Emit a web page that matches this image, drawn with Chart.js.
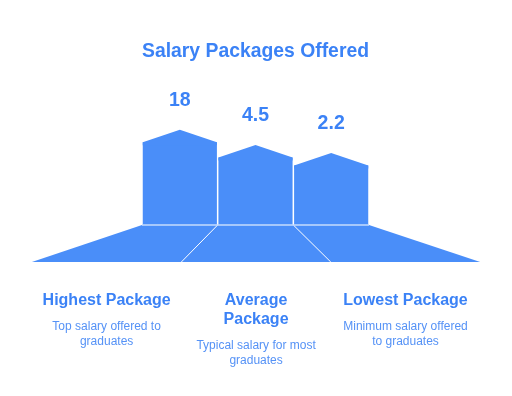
<!DOCTYPE html>
<html>
<head>
<meta charset="utf-8">
<script src="https://cdn.jsdelivr.net/npm/chart.js@4"></script>
<style>
  html, body { margin: 0; padding: 0; background: #fff; }
  #wrap { width: 512px; height: 396px; position: relative; }
</style>
</head>
<body>
<div id="wrap"><canvas id="salaryChart"></canvas></div>
<script>
const categories = [['Highest Package'], ['Average', 'Package'], ['Lowest Package']];
const packageValues = [18, 4.5, 2.2];
const valueLabels = ['18', '4.5', '2.2'];
const descriptions = [
    ['Top salary offered to', 'graduates'],
    ['Typical salary for most', 'graduates'],
    ['Minimum salary offered', 'to graduates']
];

const BLUE = '#4a8ef9';
const TEXT_BLUE = '#3b82f6';
const SOFT_BLUE = '#5592f6';
const FONT = '"Liberation Sans", Arial, sans-serif';

// roofs, floor and texts around the bars
const housePlugin = {
    id: 'houses',
    beforeDatasetsDraw(chart) {
        const ctx = chart.ctx;
        const { left, right, bottom } = chart.chartArea;
        const w = right - left;
        const floorH = 37;
        const bl = left - w * 0.485;
        const br = right + w * 0.49;
        ctx.save();
        ctx.fillStyle = BLUE;
        ctx.beginPath();
        ctx.moveTo(left, bottom);
        ctx.lineTo(right, bottom);
        ctx.lineTo(br, bottom + floorH);
        ctx.lineTo(bl, bottom + floorH);
        ctx.closePath();
        ctx.fill();

        // dividers
        const bars = chart.getDatasetMeta(0).data;
        const seg = (br - bl) / bars.length;
        ctx.strokeStyle = '#ffffff';
        ctx.lineWidth = 1;
        for (let i = 0; i < bars.length - 1; i++) {
            const topX = (bars[i].x + bars[i + 1].x) / 2;
            ctx.beginPath();
            ctx.moveTo(topX, bottom);
            ctx.lineTo(bl + seg * (i + 1), bottom + floorH);
            ctx.stroke();
        }
        ctx.restore();
        chart.$floor = { bl, seg, bottom: bottom + floorH };
    },
    afterDatasetsDraw(chart) {
        const ctx = chart.ctx;
        const bars = chart.getDatasetMeta(0).data;
        ctx.save();
        bars.forEach((bar, i) => {
            const half = bar.width / 2;
            const roof = bar.width * 0.17;
            // roof overlaps the bar a little so no seam shows
            ctx.fillStyle = BLUE;
            ctx.beginPath();
            ctx.moveTo(bar.x - half, bar.y + 3);
            ctx.lineTo(bar.x - half, bar.y);
            ctx.lineTo(bar.x, bar.y - roof);
            ctx.lineTo(bar.x + half, bar.y);
            ctx.lineTo(bar.x + half, bar.y + 3);
            ctx.closePath();
            ctx.fill();

            ctx.fillStyle = TEXT_BLUE;
            ctx.font = 'bold 19.5px ' + FONT;
            ctx.textAlign = 'center';
            ctx.textBaseline = 'middle';
            ctx.fillText(valueLabels[i], bar.x, bar.y - roof - 29);
        });

        // light line on the floor's top edge
        const { left, right, bottom } = chart.chartArea;
        ctx.strokeStyle = '#c6dbfd';
        ctx.lineWidth = 1.5;
        ctx.beginPath();
        ctx.moveTo(left, bottom);
        ctx.lineTo(right, bottom);
        ctx.stroke();

        // category names + descriptions under the floor
        const f = chart.$floor;
        categories.forEach((lines, i) => {
            const cx = f.bl + f.seg * (i + 0.5);
            let y = f.bottom + 39;
            ctx.fillStyle = TEXT_BLUE;
            ctx.font = 'bold 16px ' + FONT;
            lines.forEach(t => { ctx.fillText(t, cx, y); y += 19; });
            y += 7;
            ctx.fillStyle = SOFT_BLUE;
            ctx.font = '12px ' + FONT;
            descriptions[i].forEach(t => { ctx.fillText(t, cx, y); y += 14.5; });
        });
        ctx.restore();
    }
};

const chart = new Chart(document.getElementById('salaryChart'), {
    type: 'bar',
    data: {
        labels: categories,
        datasets: [{
            data: packageValues,
            backgroundColor: BLUE,
            borderWidth: 0,
            categoryPercentage: 1,
            barPercentage: 0.98
        }]
    },
    options: {
        responsive: true,
        maintainAspectRatio: false,
        animation: false,
        layout: { padding: { left: 142, right: 143, bottom: 171, top: 0 } },
        scales: {
            x: { display: false },
            y: { type: 'logarithmic', display: false, min: 0.01, max: 100 }
        },
        plugins: {
            legend: { display: false },
            tooltip: { enabled: false },
            title: {
                display: true,
                text: 'Salary Packages Offered',
                color: TEXT_BLUE,
                font: { size: 19.5, weight: 'bold', family: FONT },
                padding: { top: 40, bottom: 60 }
            }
        }
    },
    plugins: [housePlugin]
});
</script>
</body>
</html>
